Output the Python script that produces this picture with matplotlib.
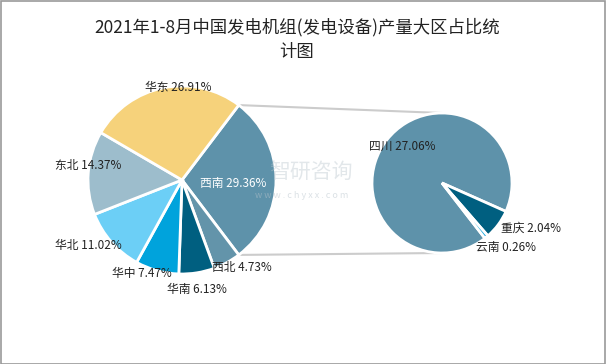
import matplotlib
matplotlib.use("Agg")
import matplotlib.pyplot as plt
from matplotlib.patches import ConnectionPatch, Rectangle
import numpy as np

plt.rcParams['font.family'] = ['Noto Sans CJK SC', 'DejaVu Sans']

# Data
regions = ['西南', '西北', '华南', '华中', '华北', '东北', '华东']
shares = [29.36, 4.73, 6.13, 7.47, 11.02, 14.37, 26.91]
region_colors = ['#5e92aa', '#6394aa', '#005f80', '#00a3dc', '#6ccff6', '#9dbdcc', '#f6d27b']

provinces = ['四川', '重庆', '云南']
prov_shares = [27.06, 2.04, 0.26]
prov_colors = ['#5e92aa', '#005f80', '#1aa7de']

W, H = 606, 364
fig = plt.figure(figsize=(W / 100, H / 100), dpi=100)
fig.patch.set_facecolor('white')

def px_axes(cx, cy, r):
    return fig.add_axes([(cx - r) / W, 1 - (cy + r) / H, 2 * r / W, 2 * r / H])

# Left pie
axL = px_axes(182, 180, 94)
half = shares[0] / 100 * 360 / 2
wL, _ = axL.pie(shares, colors=region_colors, startangle=half, counterclock=False,
                radius=1, wedgeprops=dict(edgecolor='white', linewidth=2))
axL.set_xlim(-1, 1); axL.set_ylim(-1, 1); axL.axis('off')

# Right pie
axR = px_axes(442, 183, 70)
start_r = -24 + prov_shares[0] / sum(prov_shares) * 360
wR, _ = axR.pie(prov_shares, colors=prov_colors, startangle=start_r, counterclock=False,
                radius=1, wedgeprops=dict(edgecolor='white', linewidth=2))
axR.set_xlim(-1, 1); axR.set_ylim(-1, 1); axR.axis('off')

# Connection lines
th = np.deg2rad(half)
for sgn in (1, -1):
    con = ConnectionPatch(xyA=(np.cos(th), sgn * np.sin(th)), coordsA=axL.transData,
                          xyB=(0, sgn * 1.0), coordsB=axR.transData,
                          color='#cccccc', linewidth=1.5, zorder=0)
    fig.add_artist(con)

def ftext(x, y, s, **kw):
    return fig.text(x / W, 1 - y / H, s, **kw)

# Watermark
ftext(311, 172, '智研咨询', fontsize=15, color='#b8c4cc', alpha=0.4, ha='center', va='center', zorder=0)
ftext(302, 195, 'w w w . c h y x x . c o m', fontsize=6.5, color='#b8c4cc', alpha=0.5, ha='center', va='center', zorder=0)

# Labels
lab_kw = dict(fontsize=8.5, color='#222222', ha='center', va='center')
label_pos = {
    '华东': (178, 87), '东北': (88, 166), '华北': (88, 246), '华中': (142, 273),
    '华南': (197, 289), '西北': (242, 268),
}
for name, val in zip(regions, shares):
    s = f'{name} {val:.2f}%'
    if name == '西南':
        ftext(233, 183, s, fontsize=8.5, color='white', ha='center', va='center')
    else:
        x, y = label_pos[name]
        ftext(x, y, s, **lab_kw)

prov_pos = {'四川': (402, 146), '重庆': (531, 228), '云南': (506, 248)}
for name, val in zip(provinces, prov_shares):
    x, y = prov_pos[name]
    ftext(x, y, f'{name} {val:.2f}%', **lab_kw)

# Title
ftext(297, 27, '2021年1-8月中国发电机组(发电设备)产量大区占比统', fontsize=12.5,
      color='#222222', ha='center', va='center')
ftext(297, 52, '计图', fontsize=12.5, color='#222222', ha='center', va='center')

# Border
fig.add_artist(Rectangle((0.5 / W, 0.5 / H), (W - 1.5) / W, (H - 1.5) / H,
                         transform=fig.transFigure, fill=False, edgecolor='#999999', linewidth=1.2))

fig.savefig('out.png', dpi=100)
